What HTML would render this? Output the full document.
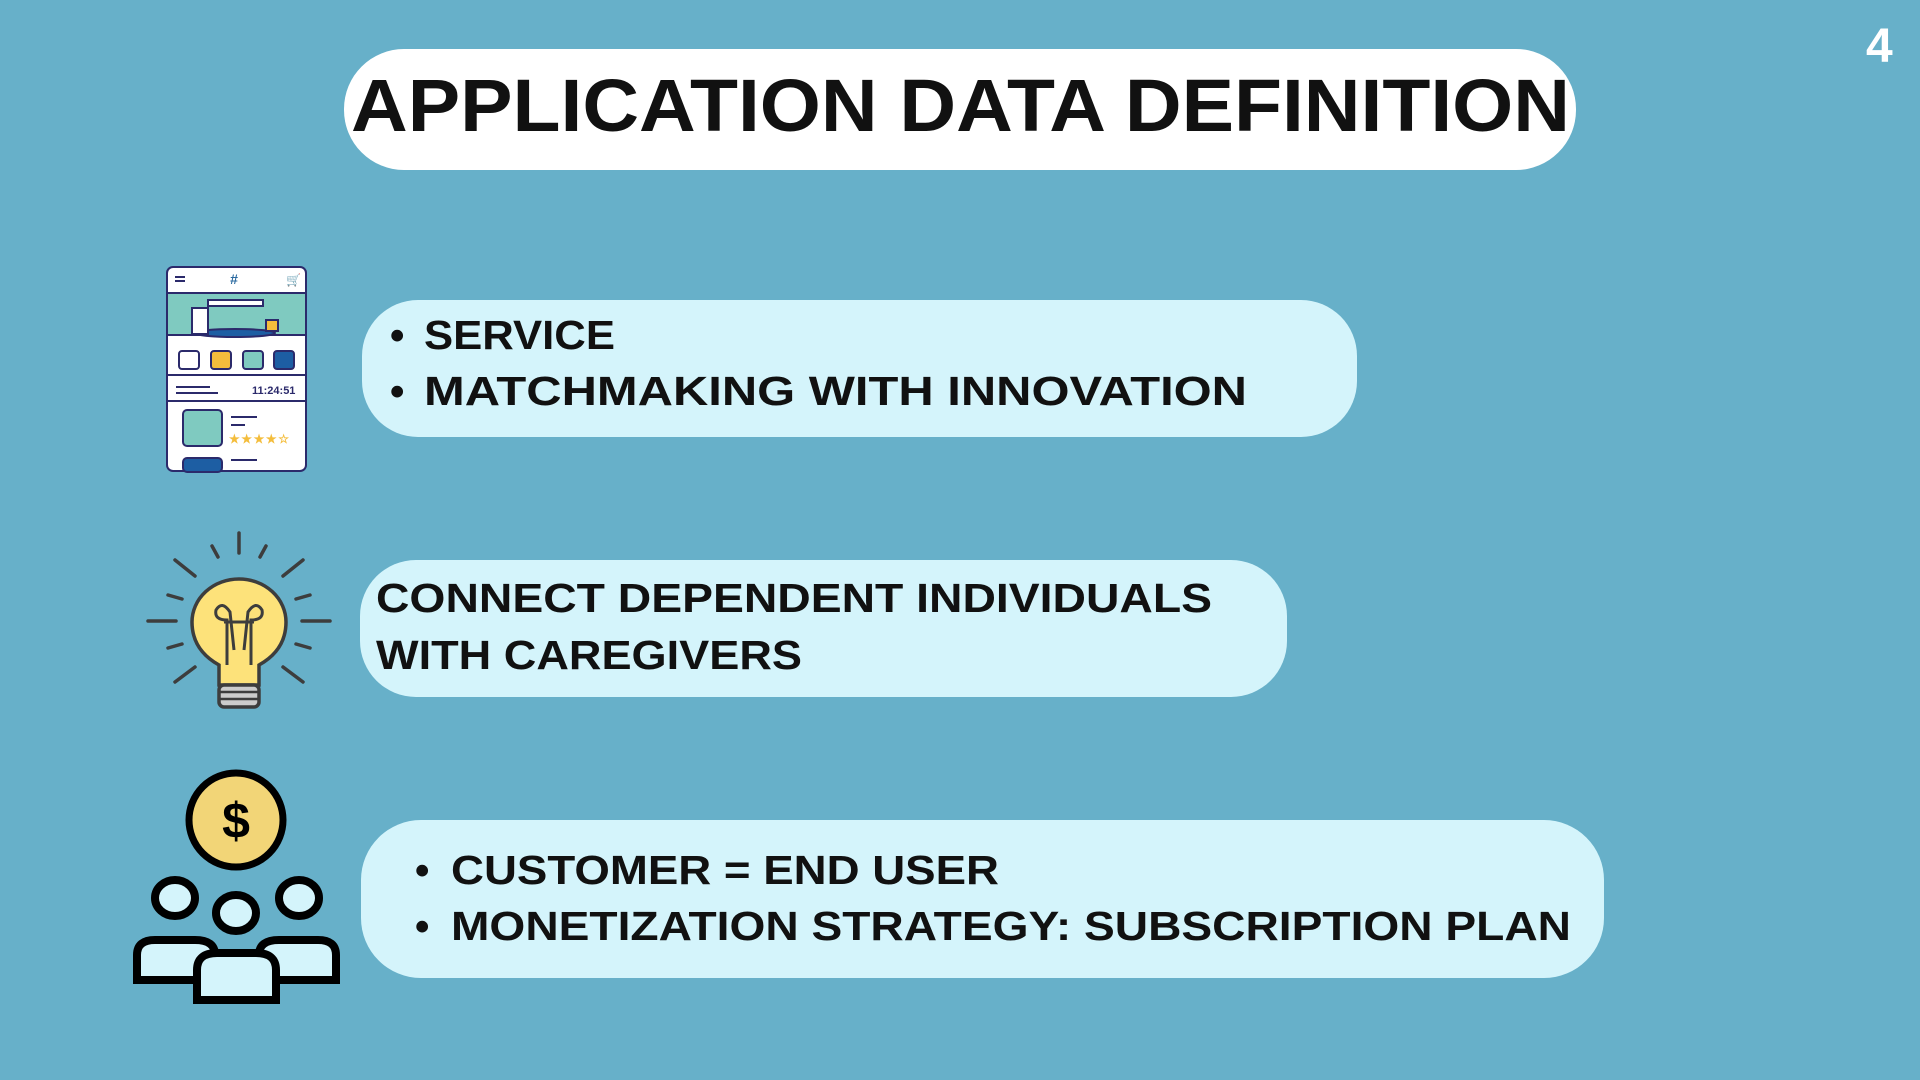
<!DOCTYPE html>
<html><head><meta charset="utf-8"><style>
html,body{margin:0;padding:0;background:#67b0c9;}
svg{display:block}
text{font-family:"Liberation Sans",sans-serif;font-weight:bold;}
</style></head><body>
<svg width="1920" height="1080" viewBox="0 0 1920 1080" xmlns="http://www.w3.org/2000/svg">
<rect width="1920" height="1080" fill="#67b0c9"/>
<!-- title -->
<rect x="344" y="49" width="1232" height="121" rx="60" fill="#ffffff"/>
<text x="351" y="131" font-size="74" fill="#111" textLength="1219" lengthAdjust="spacingAndGlyphs">APPLICATION DATA DEFINITION</text>
<text x="1866" y="62" font-size="48" fill="#fff">4</text>

<!-- boxes -->
<rect x="362" y="300" width="995" height="137" rx="56" fill="#d4f4fb"/>
<text x="390" y="349" font-size="41" fill="#111">•</text>
<text x="424" y="349" font-size="41" fill="#111" textLength="191" lengthAdjust="spacingAndGlyphs">SERVICE</text>
<text x="390" y="405" font-size="41" fill="#111">•</text>
<text x="424" y="405" font-size="41" fill="#111" textLength="823" lengthAdjust="spacingAndGlyphs">MATCHMAKING WITH INNOVATION</text>

<rect x="360" y="560" width="927" height="137" rx="56" fill="#d4f4fb"/>
<text x="376" y="612" font-size="41" fill="#111" textLength="836" lengthAdjust="spacingAndGlyphs">CONNECT DEPENDENT INDIVIDUALS</text>
<text x="376" y="669" font-size="41" fill="#111" textLength="426" lengthAdjust="spacingAndGlyphs">WITH CAREGIVERS</text>

<rect x="361" y="820" width="1243" height="158" rx="60" fill="#d4f4fb"/>
<text x="415" y="884" font-size="41" fill="#111">•</text>
<text x="451" y="884" font-size="41" fill="#111" textLength="548" lengthAdjust="spacingAndGlyphs">CUSTOMER = END USER</text>
<text x="415" y="940" font-size="41" fill="#111">•</text>
<text x="451" y="940" font-size="41" fill="#111" textLength="1120" lengthAdjust="spacingAndGlyphs">MONETIZATION STRATEGY: SUBSCRIPTION PLAN</text>

<!-- phone icon -->
<g stroke="#2b2a6b" stroke-width="2">
<rect x="167" y="267" width="139" height="204" rx="6" fill="#fff"/>
<rect x="167" y="293" width="139" height="42" fill="#7fcac0"/>
<line x1="167" y1="375" x2="306" y2="375"/>
<line x1="167" y1="401" x2="306" y2="401"/>
<rect x="179" y="351" width="20" height="18" rx="3" fill="#fff"/>
<rect x="211" y="351" width="20" height="18" rx="3" fill="#f4bd3c"/>
<rect x="243" y="351" width="20" height="18" rx="3" fill="#7fcac0"/>
<rect x="274" y="351" width="20" height="18" rx="3" fill="#1d5ea3"/>
<rect x="183" y="410" width="39" height="36" rx="4" fill="#7fcac0"/>
<rect x="183" y="458" width="39" height="14" rx="4" fill="#1d5ea3"/>
<ellipse cx="235" cy="333" rx="40" ry="4" fill="#1d5ea3"/>
<rect x="208" y="300" width="55" height="6" fill="#fff"/>
<rect x="192" y="308" width="16" height="26" fill="#fff"/>
<rect x="266" y="320" width="12" height="11" fill="#f4bd3c"/>
<line x1="175" y1="277" x2="185" y2="277"/><line x1="175" y1="281" x2="185" y2="281"/>
<line x1="176" y1="387" x2="210" y2="387"/><line x1="176" y1="393" x2="218" y2="393"/>
<line x1="231" y1="417" x2="257" y2="417"/><line x1="231" y1="425" x2="245" y2="425"/><line x1="231" y1="460" x2="257" y2="460"/>
</g>
<text x="234" y="284" font-size="14" fill="#2b6aa0" text-anchor="middle">#</text>
<text x="286" y="284" font-size="12" fill="#2b2a6b">🛒</text>
<text x="252" y="394" font-size="11" fill="#2b2a6b" font-family="Liberation Mono">11:24:51</text>
<text x="229" y="443" font-size="12" fill="#f4bd3c" textLength="60">★★★★☆</text>

<!-- bulb -->
<g stroke="#3d3d3d" stroke-width="3.5" stroke-linecap="round" fill="none">
<line x1="239" y1="533" x2="239" y2="553"/>
<line x1="175" y1="560" x2="195" y2="576"/><line x1="303" y1="560" x2="283" y2="576"/>
<line x1="212" y1="546" x2="218" y2="557"/><line x1="266" y1="546" x2="260" y2="557"/>
<line x1="148" y1="621" x2="176" y2="621"/><line x1="302" y1="621" x2="330" y2="621"/>
<line x1="168" y1="595" x2="182" y2="599"/><line x1="310" y1="595" x2="296" y2="599"/>
<line x1="168" y1="648" x2="182" y2="644"/><line x1="310" y1="648" x2="296" y2="644"/>
<line x1="175" y1="682" x2="195" y2="667"/><line x1="303" y1="682" x2="283" y2="667"/>
</g>
<path d="M219 685 L219 665 Q192 650 192 622 A47 43 0 1 1 286 622 Q286 650 259 665 L259 685 Z" fill="#fde27a" stroke="#3d3d3d" stroke-width="3.5"/>
<path d="M227 665 L227 620 Q214 620 216 610 Q222 600 230 612 L234 650 M251 665 L251 620 Q264 620 262 610 Q256 600 248 612 L244 650 M224 622 L254 622" fill="none" stroke="#3d3d3d" stroke-width="3"/>
<rect x="219" y="685" width="40" height="22" rx="5" fill="#ccc" stroke="#3d3d3d" stroke-width="3.5"/>
<line x1="220" y1="692" x2="258" y2="692" stroke="#3d3d3d" stroke-width="2.5"/>
<line x1="220" y1="699" x2="258" y2="699" stroke="#3d3d3d" stroke-width="2.5"/>

<!-- coin + people -->
<circle cx="236" cy="820" r="47" fill="#f2d577" stroke="#000" stroke-width="7"/>
<text x="236" y="838" font-size="50" fill="#000" text-anchor="middle">$</text>
<g fill="#d4f4fb" stroke="#000" stroke-width="8">
<ellipse cx="175" cy="898" rx="20" ry="18"/>
<ellipse cx="299" cy="898" rx="20" ry="18"/>
<path d="M137 980 L137 955 Q137 940 155 940 L195 940 Q215 940 215 955 L215 980 Z"/>
<path d="M259 980 L259 955 Q259 940 279 940 L318 940 Q336 940 336 955 L336 980 Z"/>
<ellipse cx="236" cy="913" rx="20" ry="18"/>
<path d="M197 1000 L197 970 Q197 953 217 953 L256 953 Q276 953 276 970 L276 1000 Z"/>
</g>
</svg>
</body></html>
